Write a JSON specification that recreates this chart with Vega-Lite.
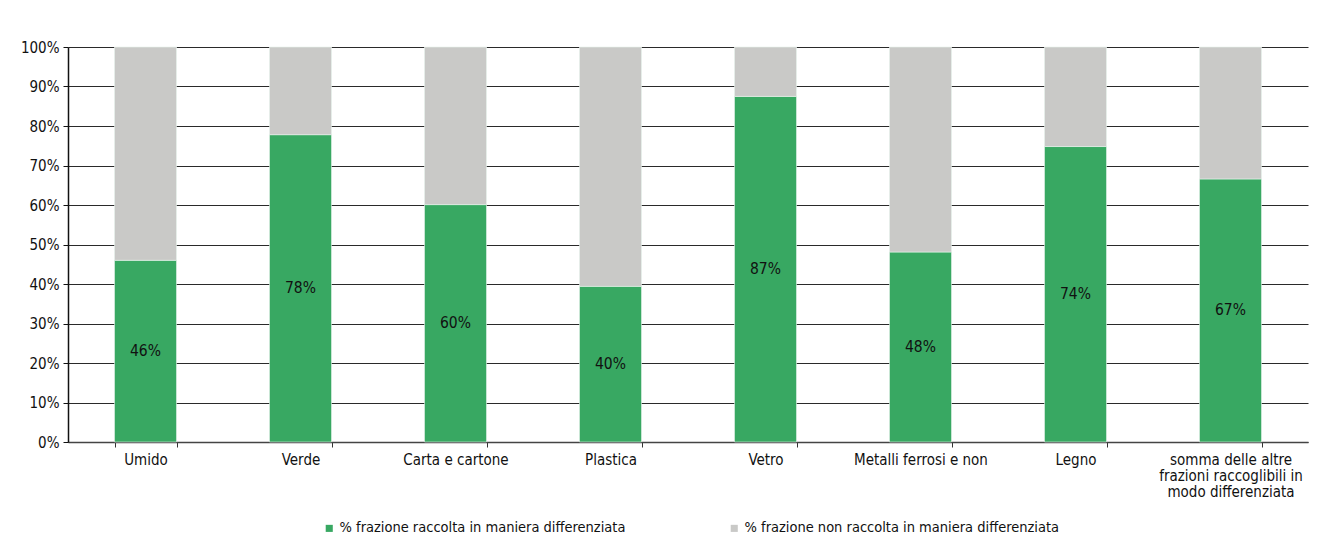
{
  "$schema": "https://vega.github.io/schema/vega-lite/v6.json",
  "width": 1240,
  "height": 395,
  "padding": {"left": 68, "top": 47, "right": 15, "bottom": 115},
  "autosize": {"type": "none"},
  "background": "white",
  "config": {
    "font": "Liberation Sans Narrow, DejaVu Sans Condensed, Roboto",
    "view": {"stroke": null},
    "axis": {"labelFont": "Liberation Sans Narrow, DejaVu Sans Condensed, Roboto", "labelColor": "#111", "labelFontSize": 15},
    "legend": {"labelFont": "Liberation Sans Narrow, DejaVu Sans Condensed, Roboto"}
  },
  "data": {
    "values": [
      {"cat": "Umido", "serie": "% frazione raccolta in maniera differenziata", "value": 46.0, "lbl": "46%"},
      {"cat": "Umido", "serie": "% frazione non raccolta in maniera differenziata", "value": 54.0, "lbl": ""},
      {"cat": "Verde", "serie": "% frazione raccolta in maniera differenziata", "value": 77.8, "lbl": "78%"},
      {"cat": "Verde", "serie": "% frazione non raccolta in maniera differenziata", "value": 22.2, "lbl": ""},
      {"cat": "Carta e cartone", "serie": "% frazione raccolta in maniera differenziata", "value": 60.1, "lbl": "60%"},
      {"cat": "Carta e cartone", "serie": "% frazione non raccolta in maniera differenziata", "value": 39.9, "lbl": ""},
      {"cat": "Plastica", "serie": "% frazione raccolta in maniera differenziata", "value": 39.4, "lbl": "40%"},
      {"cat": "Plastica", "serie": "% frazione non raccolta in maniera differenziata", "value": 60.6, "lbl": ""},
      {"cat": "Vetro", "serie": "% frazione raccolta in maniera differenziata", "value": 87.5, "lbl": "87%"},
      {"cat": "Vetro", "serie": "% frazione non raccolta in maniera differenziata", "value": 12.5, "lbl": ""},
      {"cat": "Metalli ferrosi e non", "serie": "% frazione raccolta in maniera differenziata", "value": 48.1, "lbl": "48%"},
      {"cat": "Metalli ferrosi e non", "serie": "% frazione non raccolta in maniera differenziata", "value": 51.9, "lbl": ""},
      {"cat": "Legno", "serie": "% frazione raccolta in maniera differenziata", "value": 74.8, "lbl": "74%"},
      {"cat": "Legno", "serie": "% frazione non raccolta in maniera differenziata", "value": 25.2, "lbl": ""},
      {"cat": "somma delle altre frazioni raccoglibili in modo differenziata", "serie": "% frazione raccolta in maniera differenziata", "value": 66.6, "lbl": "67%"},
      {"cat": "somma delle altre frazioni raccoglibili in modo differenziata", "serie": "% frazione non raccolta in maniera differenziata", "value": 33.4, "lbl": ""}
    ]
  },
  "layer": [
    {
      "mark": {"type": "bar", "stroke": "#e8f4ec", "strokeWidth": 0.6},
      "encoding": {
        "x": {
          "field": "cat", "type": "nominal", "sort": null, "title": null,
          "scale": {"paddingInner": 0.6, "paddingOuter": 0.3},
          "axis": {
            "labelAngle": 0, "tickBand": "extent", "ticks": true, "tickSize": 5, "tickColor": "#333",
            "domainColor": "#444", "domainWidth": 1.5, "grid": false, "labelPadding": 5,
            "labelLineHeight": 16, "labelBaseline": "top", "labelFontSize": 15,
            "labelExpr": "datum.label == 'somma delle altre frazioni raccoglibili in modo differenziata' ? ['somma delle altre', 'frazioni raccoglibili in', 'modo differenziata'] : datum.label"
          }
        },
        "y": {
          "field": "value", "type": "quantitative", "stack": "zero", "title": null,
          "scale": {"domain": [0, 100], "nice": false},
          "axis": {
            "values": [0, 10, 20, 30, 40, 50, 60, 70, 80, 90, 100],
            "labelExpr": "datum.value + '%'",
            "grid": true, "gridColor": "#2a2a2a", "gridWidth": 1.2,
            "domainColor": "#111", "domainWidth": 1.5, "tickColor": "#111", "tickSize": 5, "labelPadding": 4
          }
        },
        "color": {
          "field": "serie", "type": "nominal", "title": null,
          "scale": {
            "domain": ["% frazione raccolta in maniera differenziata", "% frazione non raccolta in maniera differenziata"],
            "range": ["#38a862", "#c9c9c7"]
          },
          "legend": {
            "orient": "none", "legendX": 254, "legendY": 474, "direction": "horizontal",
            "symbolType": "square", "symbolSize": 50, "symbolStrokeWidth": 0,
            "labelFontSize": 14.5, "labelColor": "#111", "labelOffset": 3, "columnPadding": 101,
            "labelLimit": 500
          }
        },
        "order": {"field": "serie", "sort": "descending"}
      }
    },
    {
      "transform": [{"filter": "datum.lbl != ''"}],
      "mark": {"type": "text", "fontSize": 15.5, "color": "#111", "baseline": "middle"},
      "encoding": {
        "x": {"field": "cat", "type": "nominal", "sort": null},
        "y": {"field": "value", "type": "quantitative", "scale": {"domain": [0, 200], "nice": false}, "axis": null},
        "text": {"field": "lbl"}
      }
    }
  ],
  "resolve": {"scale": {"y": "independent"}}
}
